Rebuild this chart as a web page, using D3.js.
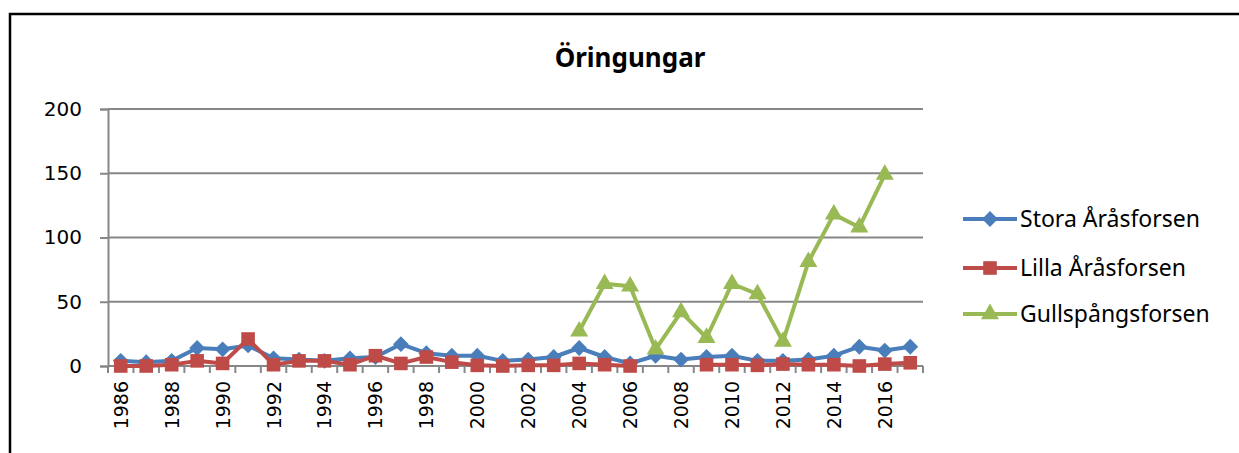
<!DOCTYPE html>
<html>
<head>
<meta charset="utf-8">
<script src="https://cdn.jsdelivr.net/npm/d3@7"></script>
<style>
body { margin:0; background:#fff; }
text { font-family: "Noto Sans", "Open Sans", sans-serif; }
</style>
</head>
<body>
<div id="chart"></div>
<script>
var years = d3.range(1986, 2018)
var yTicks = [0, 50, 100, 150, 200]
var names = ["Stora Åråsforsen", "Lilla Åråsforsen", "Gullspångsforsen"]
var colors = ["#4a7ebb", "#be4b48", "#98b954"]
// null = no value that year
var stora = [4,3,4,14,13,16,6,5,4,6,7,17,10,8,8,4,5,7,14,7,2,8,5,7,8,4,4,5,8,15,12,15]
var lilla = [0,0,1,4,2,21,1,4,4,1,8,2,7,3,0.5,0,0.5,0.5,2,1,0,null,null,1,1,0.5,1.5,1,1,0,1.5,2.5]
var gulls = [null,null,null,null,null,null,null,null,null,null,null,null,null,null,null,null,null,null,27,64,62,13,42,22,64,56,19,81,118,108,149,null]

var width = 1239
var height = 453

var x = d3.scaleBand().domain(years).range([108, 923])
var y = d3.scaleLinear().domain([0, 200]).range([366, 109])

var svg = d3.select("#chart").append("svg")
    .attr("width", width)
    .attr("height", height)

// chart frame
svg.append("path")
    .attr("d", "M10,460V14H1239")
    .attr("fill", "none")
    .attr("stroke", "#000")
    .attr("stroke-width", 2.5)

svg.append("text")
    .attr("x", 630)
    .attr("y", 67)
    .attr("text-anchor", "middle")
    .style("font-size", "26px")
    .style("font-weight", "bold")
    .text("Öringungar")

// gridlines
svg.append("g").selectAll("line")
    .data(yTicks.slice(1))
    .enter().append("line")
    .attr("x1", 108).attr("x2", 923)
    .attr("y1", function(d){ return y(d) }).attr("y2", function(d){ return y(d) })
    .attr("stroke", "#878787")
    .attr("stroke-width", 2)

var yAxis = svg.append("g")
    .attr("transform", "translate(108,0)")
    .call(d3.axisLeft(y).tickValues(yTicks).tickSize(8).tickPadding(18))
yAxis.select(".domain").attr("stroke", "#878787").attr("stroke-width", 2)
yAxis.selectAll(".tick line").attr("stroke", "#878787").attr("stroke-width", 2)
yAxis.selectAll("text").attr("fill", "#000").style("font-size", "20px").style("font-family", "'DejaVu Sans'")

// x axis
svg.append("line")
    .attr("x1", 108).attr("x2", 923).attr("y1", y(0)).attr("y2", y(0))
    .attr("stroke", "#878787").attr("stroke-width", 2)
svg.append("g").selectAll("line")
    .data(years.concat([2018]))
    .enter().append("line")
    .attr("x1", function(d){ return d == 2018 ? 923 : x(d) })
    .attr("x2", function(d){ return d == 2018 ? 923 : x(d) })
    .attr("y1", y(0)).attr("y2", y(0) + 7)
    .attr("stroke", "#878787").attr("stroke-width", 2)
svg.append("g").selectAll("text")
    .data(years.filter(function(d){ return d % 2 == 0 }))
    .enter().append("text")
    .attr("transform", function(d){ return "translate(" + (x(d) + x.bandwidth()/2 + 7) + ",381)rotate(-90)" })
    .attr("text-anchor", "end")
    .style("font-size", "19px")
    .style("font-family", "'DejaVu Sans'")
    .text(function(d){ return d })

var series = [stora, lilla, gulls]
var line = d3.line()
    .defined(function(d){ return d != null })
    .x(function(d, i){ return x(years[i]) + x.bandwidth()/2 })
    .y(function(d){ return y(d) })

// diamond = square turned 45 degrees
var symbols = [d3.symbolSquare, d3.symbolSquare, d3.symbolTriangle]
var sizes = [125, 185, 140]
var turn = [45, 0, 0]

series.forEach(function(s, k) {
    svg.append("path")
        .attr("d", line(s))
        .attr("fill", "none")
        .attr("stroke", colors[k])
        .attr("stroke-width", 4)
        .attr("stroke-linejoin", "round")
    svg.append("g").selectAll("path")
        .data(s.map(function(v, i){ return [years[i], v] }).filter(function(d){ return d[1] != null }))
        .enter().append("path")
        .attr("transform", function(d){ return "translate(" + (x(d[0]) + x.bandwidth()/2) + "," + y(d[1]) + ")rotate(" + turn[k] + ")" })
        .attr("d", d3.symbol().type(symbols[k]).size(sizes[k]))
        .attr("fill", colors[k])
})

// legend
var legendY = [219, 268, 314]
names.forEach(function(n, k) {
    var g = svg.append("g").attr("transform", "translate(0," + legendY[k] + ")")
    g.append("line").attr("x1", 963).attr("x2", 1017)
        .attr("stroke", colors[k]).attr("stroke-width", 4)
    g.append("path").attr("transform", "translate(990,0)rotate(" + turn[k] + ")")
        .attr("d", d3.symbol().type(symbols[k]).size(sizes[k]))
        .attr("fill", colors[k])
    g.append("text").attr("x", 1020).attr("dy", "0.35em")
        .style("font-size", "23px")
        .text(n)
})
</script>
</body>
</html>
